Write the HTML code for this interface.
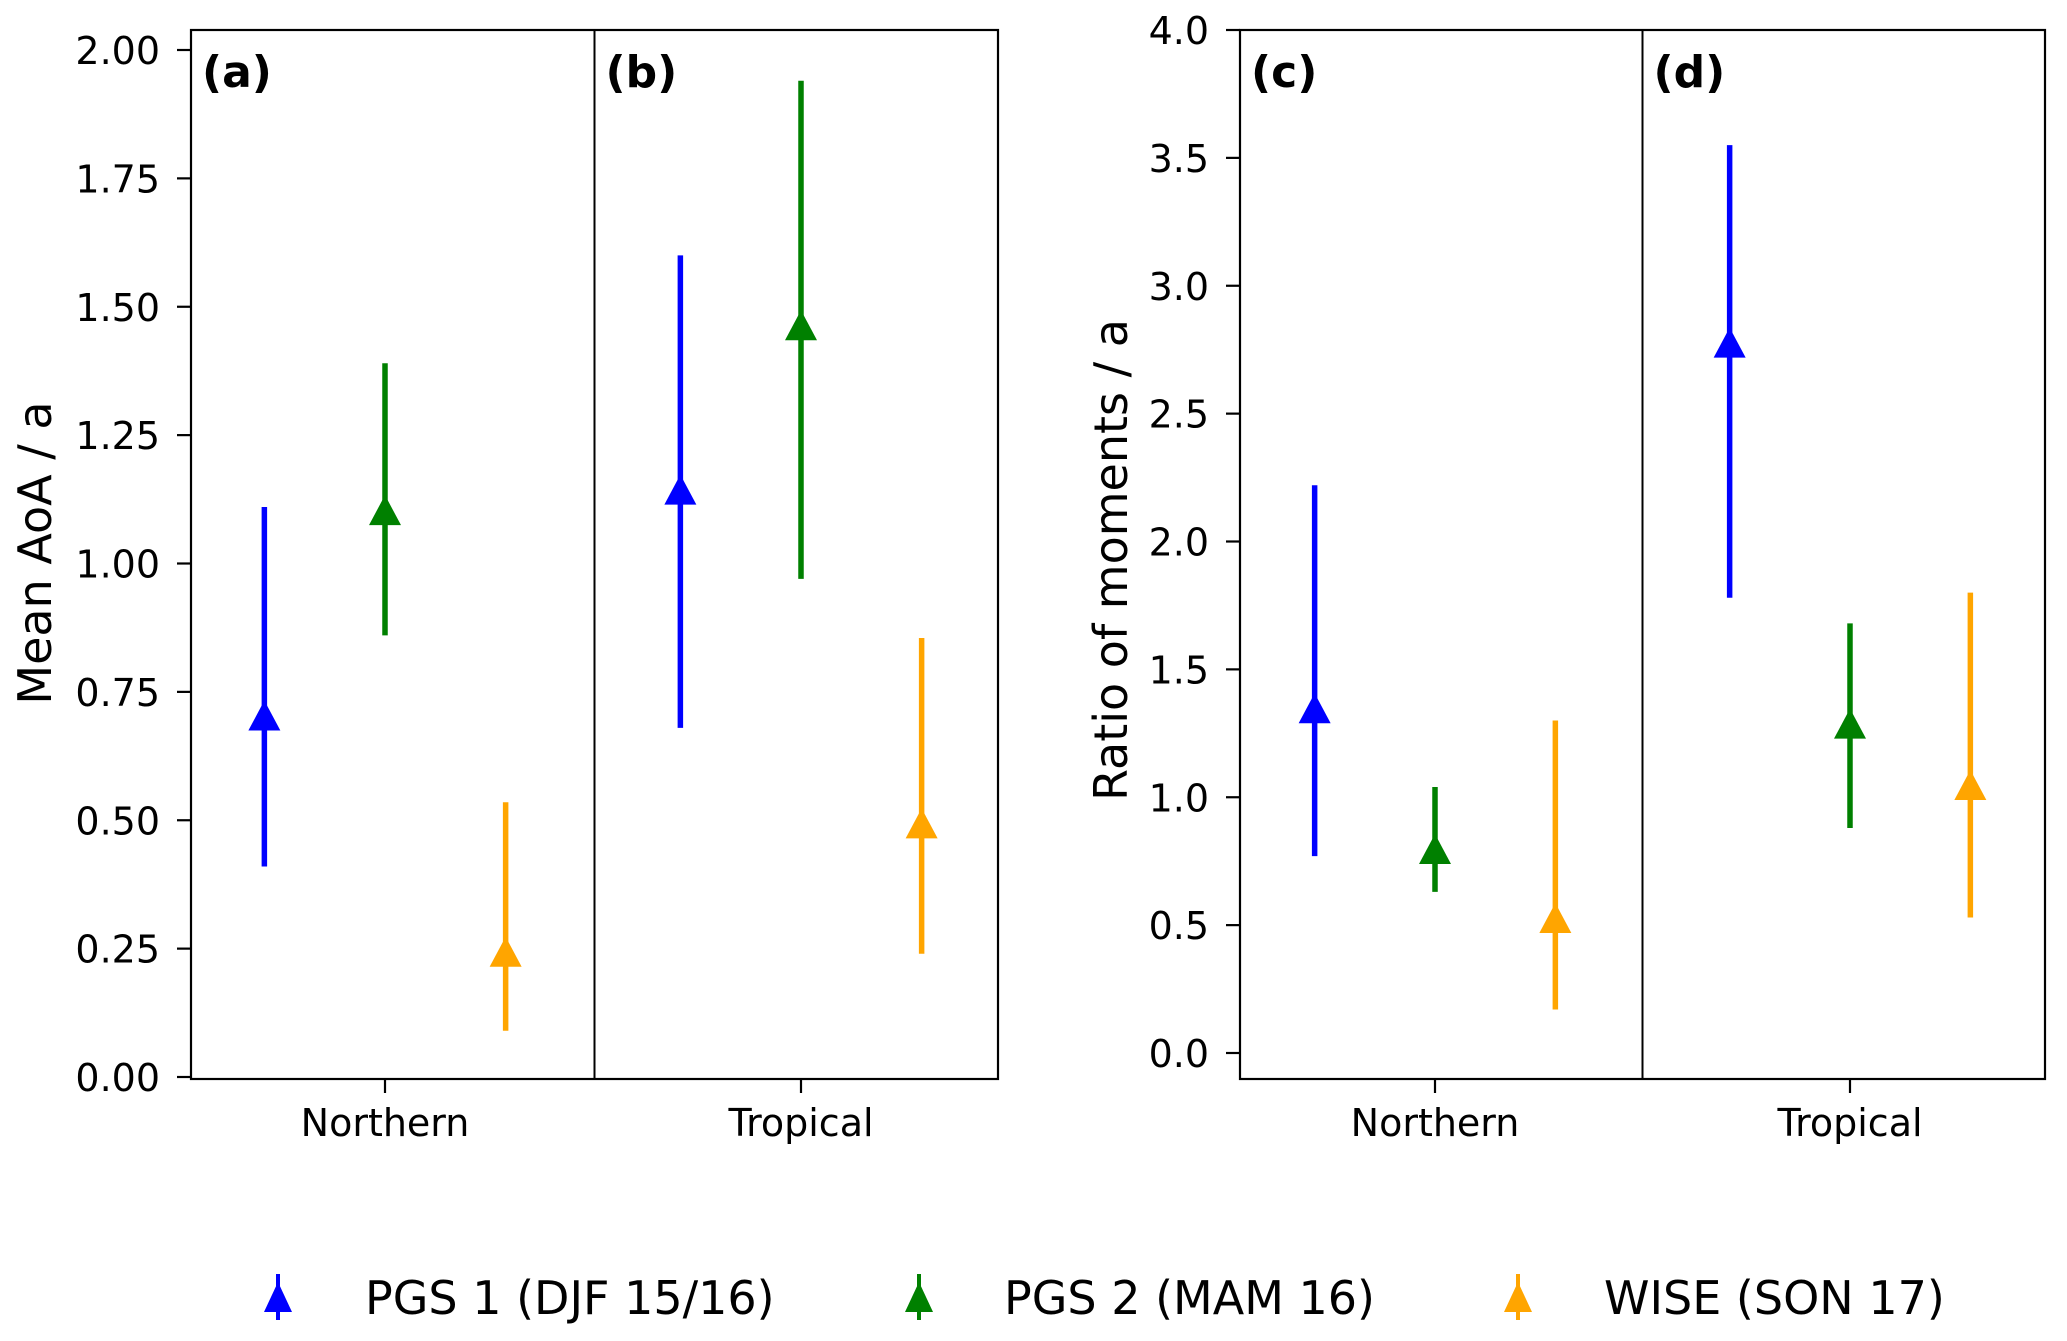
<!DOCTYPE html>
<html><head><meta charset="utf-8"><style>
body{margin:0;background:#fff}
svg{display:block;font-family:"DejaVu Sans","Liberation Sans",sans-serif}
</style></head><body>
<svg id="chart" width="2067" height="1341" viewBox="0 0 2067 1341" xmlns="http://www.w3.org/2000/svg"></svg>
<script>
const categories = ["Northern","Tropical"];
const seriesNames = ["PGS 1 (DJF 15/16)","PGS 2 (MAM 16)","WISE (SON 17)"];
const colors = ["#0000ff","#008000","#ffa500"];
// Mean AoA (panels a,b): [Northern, Tropical] per series
const aoaMean = [[0.70,1.14],[1.10,1.46],[0.24,0.49]];
const aoaLow  = [[0.41,0.68],[0.86,0.97],[0.09,0.24]];
const aoaHigh = [[1.11,1.60],[1.39,1.94],[0.535,0.855]];
// Ratio of moments (panels c,d)
const rMean = [[1.34,2.77],[0.79,1.28],[0.52,1.04]];
const rLow  = [[0.77,1.78],[0.63,0.88],[0.17,0.53]];
const rHigh = [[2.22,3.55],[1.04,1.68],[1.30,1.80]];
const aoaTicks = ["0.00","0.25","0.50","0.75","1.00","1.25","1.50","1.75","2.00"];
const rTicks = ["0.0","0.5","1.0","1.5","2.0","2.5","3.0","3.5","4.0"];
const offsets = [-0.29,0,0.29];

const svg = document.getElementById('chart');
const NS = 'http://www.w3.org/2000/svg';
function mk(tag, attrs, parent){const e=document.createElementNS(NS,tag);for(const k in attrs)e.setAttribute(k,attrs[k]);(parent||svg).appendChild(e);return e;}

function drawGroup(cfg){
  const g = mk('g',{});
  
  
  const y = v => cfg.y0 - v*cfg.ppu;
  const x = (c,o) => cfg.x0 + (c+o)*cfg.step;
  const fr = mk('rect',{x:cfg.left,y:30,width:cfg.right-cfg.left,height:1079-30,fill:'none',stroke:'#000','stroke-width':2.2},g);
  
  
  const mid = (cfg.left+cfg.right)/2;
  const dv = mk('line',{x1:mid,x2:mid,y1:30,y2:1079,stroke:'#000','stroke-width':2},g);
  
  
  cfg.ticks.forEach(t=>{
    const v=parseFloat(t), yy=y(v);
    const tl = mk('line',{x1:cfg.left-14,x2:cfg.left,y1:yy,y2:yy,stroke:'#000','stroke-width':2.2},g);
    
    
    const tx = mk('text',{x:cfg.left-31,y:yy+14,'text-anchor':'end','font-size':38},g);
    tx.textContent=t;
    
    
  });
  categories.forEach((c,i)=>{
    const xx=x(i,0);
    const tl = mk('line',{x1:xx,x2:xx,y1:1079,y2:1093,stroke:'#000','stroke-width':2.2},g);
    
    
    const tx = mk('text',{x:xx,y:1136,'text-anchor':'middle','font-size':38},g);
    tx.textContent=c;
    
    
  });
  cfg.labels.forEach((l,i)=>{
    const tx = mk('text',{x:[cfg.left+11,mid+11][i],y:87,'font-size':44,'font-weight':'bold'},g);
    tx.textContent=l;
    
    
  });
  const yt = mk('text',{x:cfg.titleX,y:cfg.titleY,'text-anchor':'middle','font-size':46,transform:`rotate(-90 ${cfg.titleX} ${cfg.titleY})`},g);
  yt.textContent=cfg.title;
  
  
  for(let s=0;s<3;s++){
    for(let c=0;c<2;c++){
      const xx=x(c,offsets[s]);
      const ln = mk('line',{x1:xx,x2:xx,y1:y(cfg.lo[s][c]),y2:y(cfg.hi[s][c]),stroke:colors[s],'stroke-width':5.5},g);
      
      
      const ym=y(cfg.mean[s][c]);
      const tr = mk('polygon',{points:`${xx},${ym-17} ${xx-16},${ym+13} ${xx+16},${ym+13}`,fill:colors[s]},g);
      
      
    }
  }
}
drawGroup({name:'mean-aoa-panel',left:191,right:998,x0:385,step:416,y0:1077,ppu:513.5,ticks:aoaTicks,mean:aoaMean,lo:aoaLow,hi:aoaHigh,labels:['(a)','(b)'],title:'Mean AoA / a',titleX:51,titleY:553});
drawGroup({name:'ratio-panel',left:1240,right:2045,x0:1435,step:415,y0:1053,ppu:255.75,ticks:rTicks,mean:rMean,lo:rLow,hi:rHigh,labels:['(c)','(d)'],title:'Ratio of moments / a',titleX:1127,titleY:560});

const lg = mk('g',{});


const lx=[278,919,1518], tx=[365,1004,1604];
seriesNames.forEach((n,i)=>{
  const e = mk('g',{},lg);
  
  
  mk('line',{x1:lx[i],x2:lx[i],y1:1274,y2:1320,stroke:colors[i],'stroke-width':4},e);
  mk('polygon',{points:`${lx[i]},${1282} ${lx[i]-14},${1312} ${lx[i]+14},${1312}`,fill:colors[i]},e);
  const t = mk('text',{x:tx[i],y:1314,'font-size':46},e);
  t.textContent=n;
});
</script>
</body></html>
